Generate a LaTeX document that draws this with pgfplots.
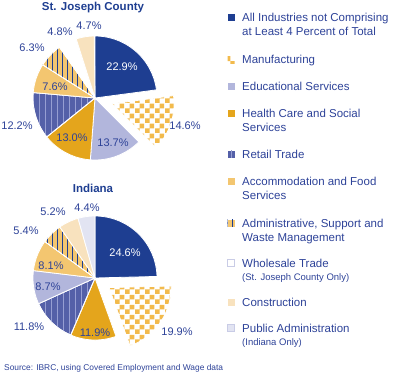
\documentclass[border=0pt]{standalone}
\usepackage{pgfplots}
\pgfplotsset{compat=1.18}
\usepackage{fontspec}
\setmainfont{Liberation Sans}
\usetikzlibrary{patterns}

\definecolor{navy}{RGB}{30,62,145}
\definecolor{txt}{RGB}{45,66,152}
\definecolor{gold}{RGB}{228,165,28}
\definecolor{lorange}{RGB}{243,198,112}
\definecolor{checkc}{RGB}{242,186,76}
\definecolor{beige}{RGB}{248,226,190}
\definecolor{lav}{RGB}{178,182,220}
\definecolor{retail}{RGB}{84,96,168}
\definecolor{retailln}{RGB}{150,158,210}
\definecolor{pubadm}{RGB}{226,228,242}

\pgfdeclarepatternformonly{chk}{\pgfqpoint{0pt}{0pt}}{\pgfqpoint{9.6pt}{9.6pt}}{\pgfqpoint{9.6pt}{9.6pt}}{%
  \pgfpathrectangle{\pgfqpoint{0pt}{0pt}}{\pgfqpoint{4.8pt}{4.8pt}}%
  \pgfpathrectangle{\pgfqpoint{4.8pt}{4.8pt}}{\pgfqpoint{4.8pt}{4.8pt}}%
  \pgfusepath{fill}}
\pgfdeclarepatternformonly{vlfive}{\pgfqpoint{0pt}{-1pt}}{\pgfqpoint{5pt}{6pt}}{\pgfqpoint{5pt}{5pt}}{%
  \pgfsetlinewidth{0.6pt}%
  \pgfpathmoveto{\pgfqpoint{2.5pt}{-1pt}}\pgfpathlineto{\pgfqpoint{2.5pt}{6pt}}\pgfusepath{stroke}}
\pgfdeclarepatternformonly{vlsix}{\pgfqpoint{0pt}{-1pt}}{\pgfqpoint{6pt}{7pt}}{\pgfqpoint{6pt}{6pt}}{%
  \pgfsetlinewidth{0.8pt}%
  \pgfpathmoveto{\pgfqpoint{3pt}{-1pt}}\pgfpathlineto{\pgfqpoint{3pt}{7pt}}\pgfusepath{stroke}}

\tikzset{
  sA/.style={fill=navy},
  sB/.style={preaction={fill=white}, pattern=chk, pattern color=checkc},
  sC/.style={fill=lav},
  sD/.style={fill=gold},
  sE/.style={preaction={fill=retail}, pattern=vlsix, pattern color=retailln},
  sF/.style={fill=lorange},
  sG/.style={preaction={fill=lorange}, pattern=vlfive, pattern color=navy},
  sH/.style={fill=white},
  sI/.style={fill=beige},
  sJ/.style={fill=pubadm},
  pl/.style={font=\fontsize{11}{12}\selectfont, text=txt, inner sep=0pt},
  lt/.style={font=\fontsize{11.5}{13}\selectfont, text=txt, inner sep=0pt, anchor=base west},
  ls/.style={font=\fontsize{9.5}{11}\selectfont, text=txt, inner sep=0pt, anchor=base west},
}

% value (percent), style, explode distance
\newcommand{\pieslice}[3]{%
  \pgfmathsetmacro{\aS}{90-3.6*\cum}%
  \pgfmathsetmacro{\aE}{90-3.6*(\cum+#1)}%
  \pgfmathsetmacro{\aM}{(\aS+\aE)/2}%
  \pgfmathsetmacro{\ox}{#3*cos(\aM)}%
  \pgfmathsetmacro{\oy}{#3*sin(\aM)}%
  \edef\temp{\noexpand\addplot[#2, draw=white, line width=0.8pt, line join=round, domain=\aE:\aS, samples=60, variable=\noexpand\t] ({\ox+62*cos(\noexpand\t)},{\oy+62*sin(\noexpand\t)}) -- (axis cs:\ox,\oy) -- cycle;}%
  \temp
  \pgfmathsetmacro{\cumnew}{\cum+#1}\xdef\cum{\cumnew}%
}

\newcommand{\plab}[5]{\node[pl, text=#5] at ([shift={(#2pt,#3pt)}]#1) {#4};}
\newcommand{\lsq}[2]{\path[#2] ({227.5pt},{(373-#1-3.5)*1pt}) rectangle ++(7pt,7pt);}
\newcommand{\ltx}[2]{\node[lt] at ({242pt},{(373-#1-4)*1pt}) {#2};}
\newcommand{\lsb}[2]{\node[ls] at ({242pt},{(373-#1-3.5)*1pt}) {#2};}

\begin{document}
\begin{tikzpicture}
\useasboundingbox (0,0) rectangle (401pt,373pt);
\coordinate (A) at (95pt,275pt);
\coordinate (B) at (95pt,95pt);

% St. Joseph County
\begin{axis}[at={(A)}, anchor=origin, x=1pt, y=1pt, xmin=-120, xmax=120, ymin=-120, ymax=120, hide axis, clip=false]
\gdef\cum{0}
\pieslice{22.9}{sA}{0}
\pieslice{14.6}{sB}{18}
\pieslice{13.7}{sC}{0}
\pieslice{13.0}{sD}{0}
\pieslice{12.2}{sE}{0}
\pieslice{7.6}{sF}{0}
\pieslice{6.3}{sG}{0}
\pieslice{4.8}{sH}{0}
\pieslice{4.7}{sI}{0}
\end{axis}

% Indiana
\begin{axis}[at={(B)}, anchor=origin, x=1pt, y=1pt, xmin=-120, xmax=120, ymin=-120, ymax=120, hide axis, clip=false]
\gdef\cum{0}
\pieslice{24.6}{sA}{0}
\pieslice{19.9}{sB}{17}
\pieslice{11.9}{sD}{0}
\pieslice{11.8}{sE}{0}
\pieslice{8.7}{sC}{0}
\pieslice{8.1}{sF}{0}
\pieslice{5.4}{sG}{0}
\pieslice{5.2}{sI}{0}
\pieslice{4.4}{sJ}{0}
\end{axis}

% titles
\node[font=\bfseries\fontsize{11.5}{13}\selectfont, text=navy] at (93pt,365pt) {St. Joseph County};
\node[font=\bfseries\fontsize{11.5}{13}\selectfont, text=navy] at (93pt,185pt) {Indiana};

% slice labels
\plab{A}{27}{31}{22.9\%}{white}
\plab{A}{90}{-28}{14.6\%}{txt}
\plab{A}{18}{-45}{13.7\%}{txt}
\plab{A}{-23}{-40}{13.0\%}{txt}
\plab{A}{-78}{-28}{12.2\%}{txt}
\plab{A}{-40}{11}{7.6\%}{txt}
\plab{A}{-63}{50}{6.3\%}{txt}
\plab{A}{-35}{66}{4.8\%}{txt}
\plab{A}{-6}{72}{4.7\%}{txt}

\plab{B}{30}{25}{24.6\%}{white}
\plab{B}{82}{-54}{19.9\%}{txt}
\plab{B}{0}{-55}{11.9\%}{txt}
\plab{B}{-66}{-49}{11.8\%}{txt}
\plab{B}{-47}{-9}{8.7\%}{txt}
\plab{B}{-44}{12}{8.1\%}{txt}
\plab{B}{-69}{47}{5.4\%}{txt}
\plab{B}{-42}{66}{5.2\%}{txt}
\plab{B}{-8}{70}{4.4\%}{txt}

% legend
\lsq{18}{sA}
\ltx{18}{All Industries not Comprising}
\ltx{32}{at Least 4 Percent of Total}
\lsq{60}{sB}
\ltx{60}{Manufacturing}
\lsq{86}{sC}
\ltx{86}{Educational Services}
\lsq{113}{sD}
\ltx{113}{Health Care and Social}
\ltx{127}{Services}
\lsq{154}{sE}
\ltx{154}{Retail Trade}
\lsq{181}{sF}
\ltx{181}{Accommodation and Food}
\ltx{195}{Services}
\lsq{223}{sG}
\ltx{223}{Administrative, Support and}
\ltx{237}{Waste Management}
\lsq{263}{sH, draw=lav!70, line width=0.5pt}
\ltx{263}{Wholesale Trade}
\lsb{277}{(St. Joseph County Only)}
\lsq{302}{sI}
\ltx{302}{Construction}
\lsq{328}{sJ, draw=lav!70, line width=0.5pt}
\ltx{328}{Public Administration}
\lsb{342}{(Indiana Only)}

% source
\node[font=\fontsize{8.4}{9}\selectfont, text=txt, inner sep=0pt, anchor=base west] at (4pt,3pt) {Source: IBRC, using Covered Employment and Wage data};
\end{tikzpicture}
\end{document}
